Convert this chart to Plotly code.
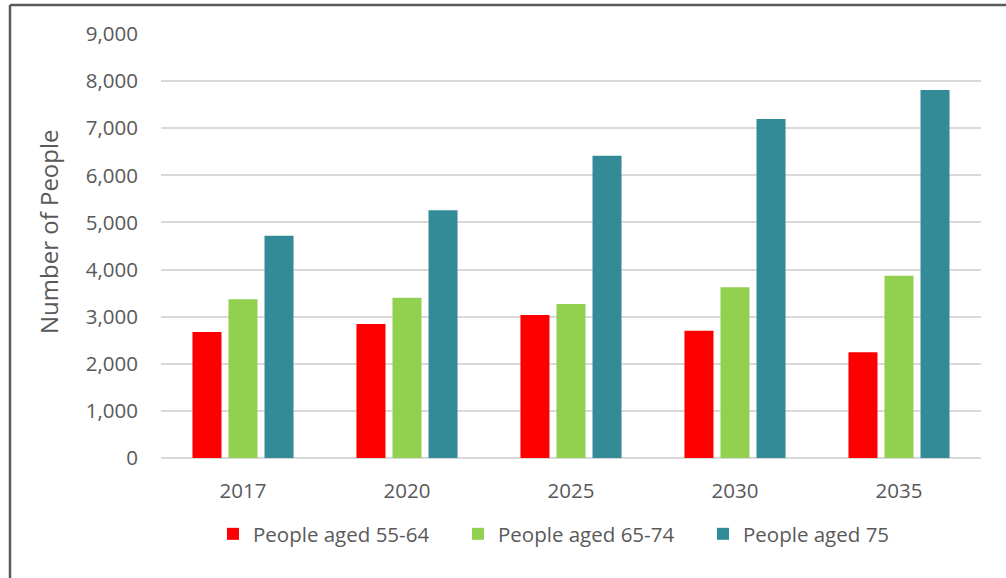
import plotly.graph_objects as go

years = ["2017", "2020", "2025", "2030", "2035"]
aged_55_64 = [2675, 2845, 3036, 2703, 2247]
aged_65_74 = [3369, 3404, 3270, 3624, 3870]
aged_75 = [4716, 5261, 6418, 7195, 7811]
series_names = ["People aged 55-64", "People aged 65-74", "People aged 75"]
colors = ["#FF0000", "#92D050", "#338B98"]
y_title = "Number of People"

FONT = "Open Sans"
GRAY = "#595959"
FS = 20.5

L, R, T, B = 161, 25, 34, 120
W, H = 1006, 578
PW, PH = W - L - R, H - T - B

def px_x(px):
    return (px - L) / PW

def px_y(py):
    return (H - B - py) / PH

fig = go.Figure()
for name, vals, col in zip(series_names, [aged_55_64, aged_65_74, aged_75], colors):
    fig.add_trace(go.Bar(x=years, y=vals, name=name, marker=dict(color=col, line=dict(width=0))))

fig.update_layout(
    width=W, height=H,
    margin=dict(l=L, r=R, t=T, b=B, autoexpand=False),
    paper_bgcolor="white", plot_bgcolor="white",
    barmode="group", bargap=0.341, bargroupgap=0.194,
    font=dict(family=FONT, size=FS, color=GRAY),
    showlegend=True,
    legend=dict(orientation="h", x=px_x(229 - 40 + 24), xanchor="left", y=px_y(534), yanchor="middle",
                font=dict(family=FONT, size=FS, color=GRAY), traceorder="normal",
                itemwidth=30, entrywidth=200, bgcolor="rgba(0,0,0,0)"),
    shapes=[
        dict(type="line", xref="paper", yref="paper", x0=px_x(10), x1=px_x(1020), y0=px_y(5), y1=px_y(5),
             line=dict(color="#5A5A5A", width=2.5)),
        dict(type="line", xref="paper", yref="paper", x0=px_x(10), x1=px_x(10), y0=px_y(5), y1=px_y(600),
             line=dict(color="#5A5A5A", width=2.5)),
    ],
    annotations=[
        dict(text=y_title, textangle=-90, xref="paper", yref="paper", x=px_x(48), y=px_y(231),
             xanchor="center", yanchor="middle", showarrow=False,
             font=dict(size=24, color=GRAY, family=FONT)),
    ],
)
fig.update_xaxes(showgrid=False, showline=False, zeroline=False, ticks="",
                 ticklabelstandoff=18, tickfont=dict(size=FS, color=GRAY, family=FONT))
fig.update_yaxes(range=[0, 9000], dtick=1000, tickformat=",d", showgrid=True, gridcolor="#D9D9D9",
                 gridwidth=1.5, zeroline=True, zerolinecolor="#D9D9D9", zerolinewidth=1.5,
                 showline=False, ticks="", ticklabelstandoff=22,
                 tickfont=dict(size=FS, color=GRAY, family=FONT))

fig.write_html("out.html", config={"displayModeBar": False},
               post_script="document.body.style.margin='0';document.body.style.overflow='hidden';")
